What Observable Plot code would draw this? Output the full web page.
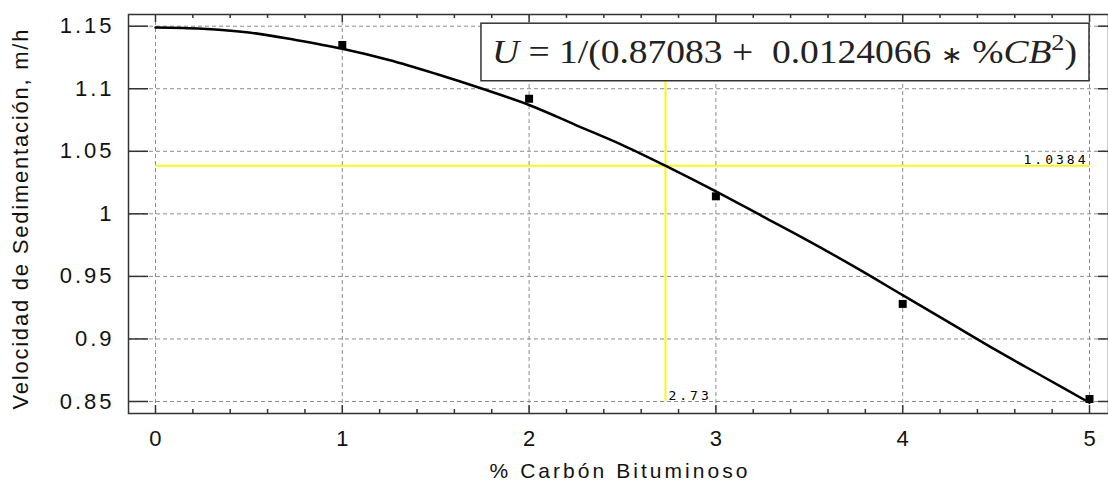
<!DOCTYPE html>
<html><head><meta charset="utf-8">
<script src="https://cdn.jsdelivr.net/npm/d3@7"></script>
<script src="https://cdn.jsdelivr.net/npm/@observablehq/plot@0.6"></script>
<style>html,body{margin:0;padding:0;background:#fff;overflow:hidden}</style>
</head><body><div id="chart"></div>
<script>
// ---- data ----
const xTicks = [0, 1, 2, 3, 4, 5];
const xTickLabels = ["0", "1", "2", "3", "4", "5"];
const xMinorTicks = [0.2, 0.4, 0.6, 0.8, 1.2, 1.4, 1.6, 1.8, 2.2, 2.4, 2.6, 2.8, 3.2, 3.4, 3.6, 3.8, 4.2, 4.4, 4.6, 4.8];
const yTicks = [0.85, 0.9, 0.95, 1.0, 1.05, 1.1, 1.15];
const yTickLabels = ["0.85", "0.9", "0.95", "1", "1.05", "1.1", "1.15"];

// observed points (% CB, velocity)
const pointX = [1, 2, 3, 4, 5];
const pointY = [1.135, 1.092, 1.014, 0.928, 0.852];

// fitted curve
const curveX = [0, 0.25, 0.5, 0.75, 1, 1.25, 1.5, 1.75, 2, 2.25, 2.5, 2.75, 3, 3.25, 3.5, 3.75, 4, 4.25, 4.5, 4.75, 5];
const curveY = [1.149, 1.148, 1.145, 1.139, 1.132, 1.123, 1.112, 1.100, 1.087, 1.071, 1.055, 1.037, 1.018, 0.998, 0.978, 0.957, 0.935, 0.913, 0.891, 0.870, 0.849];

// reference (yellow) cross-hair
const refX = 2.73;
const refY = 1.0384;
const refXLabel = "2.73";
const refYLabel = "1.0384";

// equation annotation box (data units)
const eqBoxX = [1.745, 5];
const eqBoxY = [1.106, 1.152];
const equation = "U = 1/(0.87083 +  0.0124066 ∗ %CB²)";
const equationParts = [
  {s: "U", italic: true}, {s: " = 1/(0.87083 +  0.0124066 "}, {s: "∗", op: true}, {s: " %"}, {s: "CB", italic: true},
  {s: "2", sup: true}, {s: ")"}
];

const xTitle = "% Carbón Bituminoso";
const yTitle = "Velocidad de Sedimentación, m/h";

// ---- build ----
const points = pointX.map((x, i) => ({x, y: pointY[i]}));
const curve = curveX.map((x, i) => ({x, y: curveY[i]}));
const sans = "'Liberation Sans', Arial, sans-serif";
const W = 1108, H = 483, mL = 128, mR = 0, mT = 14, mB = 70;
const pw = W - mL - mR, ph = H - mT - mB;
const grid = "#8c8c8c";
const yellow = "#f7f71a";

const chart = Plot.plot({
  width: W, height: H,
  marginLeft: mL, marginRight: mR, marginTop: mT, marginBottom: mB,
  style: {fontFamily: sans, background: "#fff", overflow: "visible"},
  x: {domain: [-0.1445, 5.1017]},
  y: {domain: [0.8404, 1.15935]},
  marks: [
    // grid
    Plot.ruleX(xTicks, {stroke: grid, strokeDasharray: "4,3", strokeWidth: 1}),
    Plot.ruleY(yTicks, {stroke: grid, strokeDasharray: "4,3", strokeWidth: 1}),
    // yellow cross-hair
    Plot.ruleX([refX], {y1: yTicks[0], y2: eqBoxY[1], stroke: yellow, strokeWidth: 2}),
    Plot.ruleY([refY], {x1: xTicks[0], x2: xTicks[xTicks.length - 1], stroke: yellow, strokeWidth: 2}),
    // curve and points
    Plot.line(curve, {x: "x", y: "y", stroke: "#000", strokeWidth: 2.5, curve: "catmull-rom"}),
    Plot.dot(points, {x: "x", y: "y", symbol: "square", r: 4.5, fill: "#000", stroke: "none"}),
    // reference labels
    Plot.text([refYLabel], {x: xTicks[xTicks.length - 1], y: refY, text: d => d, textAnchor: "end", lineAnchor: "bottom", dx: -1, dy: -2, fontSize: 13, fontFamily: "'DejaVu Sans Mono', monospace", fill: "#000"}),
    Plot.text([refXLabel], {x: refX, y: yTicks[0], text: d => d, textAnchor: "start", lineAnchor: "bottom", dx: 3, dy: -1, fontSize: 13, fontFamily: "'DejaVu Sans Mono', monospace", fill: "#000"}),
    // equation box
    Plot.rect([0], {x1: eqBoxX[0], x2: eqBoxX[1], y1: eqBoxY[0], y2: eqBoxY[1], fill: "#fff", stroke: "#333", strokeWidth: 1.5}),
    Plot.text([equation], {x: (eqBoxX[0] + eqBoxX[1]) / 2, y: (eqBoxY[0] + eqBoxY[1]) / 2, text: d => d, textAnchor: "middle", fontSize: 34, fontFamily: "'Liberation Serif', 'Times New Roman', serif", fill: "#222", lineAnchor: "middle", dx: -1, dy: 0}),
    // frame and ticks
    Plot.frame({stroke: "#333", strokeWidth: 1.5}),
    Plot.ruleY(yTicks, {stroke: "#333", strokeWidth: 1.5, insetRight: pw - 20}),
    Plot.ruleY(yTicks, {stroke: "#333", strokeWidth: 1.5, insetLeft: pw - 10}),
    Plot.ruleX(xTicks, {stroke: "#333", strokeWidth: 1.5, insetTop: ph - 8}),
    Plot.ruleX(xMinorTicks, {stroke: "#333", strokeWidth: 1.5, insetTop: ph - 4}),
    Plot.ruleX(xTicks, {stroke: "#333", strokeWidth: 1.5, insetBottom: ph - 8}),
    Plot.ruleX(xMinorTicks, {stroke: "#333", strokeWidth: 1.5, insetBottom: ph - 4}),
    // axes (labels only)
    Plot.axisX(xTicks, {anchor: "bottom", tickSize: 0, tickPadding: 17, fontSize: 22, fill: "#111", tickFormat: (d) => xTickLabels[xTicks.indexOf(d)], label: null}),
    Plot.axisY(yTicks, {anchor: "left", tickSize: 0, tickPadding: 14, fontSize: 22, fill: "#111", tickFormat: (d) => yTickLabels[yTicks.indexOf(d)], label: null}),
    // titles
    Plot.text([xTitle], {frameAnchor: "bottom", dy: 57.5, text: d => d, textAnchor: "middle", fontSize: 21, fill: "#111", lineAnchor: "middle"}),
    Plot.text([yTitle], {frameAnchor: "left", dx: -108, dy: 5.5, rotate: -90, text: d => d, textAnchor: "middle", fontSize: 22, fill: "#111", lineAnchor: "middle"})
  ]
});
document.getElementById("chart").appendChild(chart);

// ---- text fine tuning ----
const svg = d3.select(chart);
svg.selectAll('g[aria-label="y-axis tick label"]').attr("letter-spacing", "3px");
svg.selectAll("text").each(function () {
  const t = d3.select(this);
  const s = this.textContent;
  if (s === xTitle) t.attr("textLength", 258);
  else if (s === yTitle) t.attr("textLength", 380);
  else if (s === refYLabel || s === refXLabel) t.attr("letter-spacing", "3px");
  else if (s === equation) {
    t.text(null);
    equationParts.forEach(p => {
      const sp = t.append("tspan").text(p.s);
      if (p.italic) sp.attr("font-style", "italic");
      if (p.op) sp.attr("font-family", "'DejaVu Sans', sans-serif").attr("font-size", "0.7em");
      if (p.sup) sp.attr("baseline-shift", "super").attr("font-size", "0.7em");
    });
    t.attr("textLength", 585).attr("lengthAdjust", "spacingAndGlyphs");
  }
});
</script>
</body></html>
